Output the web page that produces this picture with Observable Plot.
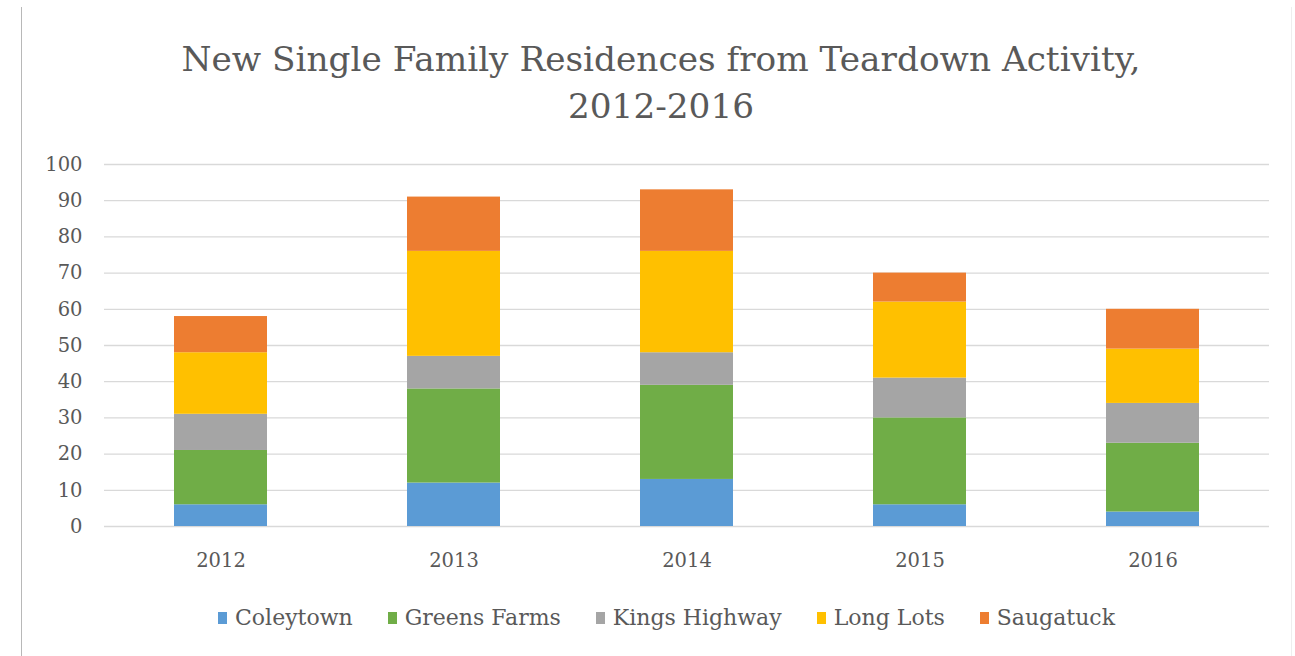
<!DOCTYPE html>
<html>
<head>
<meta charset="utf-8">
<script src="https://cdn.jsdelivr.net/npm/d3@7"></script>
<script src="https://cdn.jsdelivr.net/npm/@observablehq/plot@0.6"></script>
<style>
  html, body { margin: 0; padding: 0; background: #fff; }
  #wrap { position: relative; width: 1295px; height: 656px; overflow: hidden; background: #fff; }
  #frame { position: absolute; left: 21px; top: 7px; width: 1269px; height: 660px;
           border-left: 1px solid #b8b8b8; border-right: 1px solid #eeeeee; }
  #title { position: absolute; left: 21px; width: 1280px; top: 36px; text-align: center;
           font-family: "DejaVu Serif", serif; font-size: 34.3px; line-height: 47px; color: #595959; }
  #chart { position: absolute; left: 0; top: 140px; }
  #legend { position: absolute; left: 0; width: 1295px; top: 601px; display: flex; justify-content: center; padding-left: 73px; box-sizing: border-box; }
  .lg-swatch { margin-right: 35px !important; }
  .lg-swatch svg { margin-right: 8px !important; }
</style>
</head>
<body>
<div id="wrap">
  <div id="frame"></div>
  <div id="title">New Single Family Residences from Teardown Activity,<br>2012-2016</div>
  <div id="chart"></div>
  <div id="legend"></div>
</div>
<script>
const years = ["2012", "2013", "2014", "2015", "2016"];
const series = ["Coleytown", "Greens Farms", "Kings Highway", "Long Lots", "Saugatuck"];
const colors = ["#5B9BD5", "#70AD47", "#A5A5A5", "#FFC000", "#ED7D31"];
const coleytown    = [6, 12, 13, 6, 4];
const greensFarms  = [15, 26, 26, 24, 19];
const kingsHighway = [10, 9, 9, 11, 11];
const longLots     = [17, 29, 28, 21, 15];
const saugatuck    = [10, 15, 17, 8, 11];
const yTicks = [0, 10, 20, 30, 40, 50, 60, 70, 80, 90, 100];

const valuesBySeries = [coleytown, greensFarms, kingsHighway, longLots, saugatuck];
const data = [];
series.forEach((s, i) => years.forEach((y, j) => data.push({year: y, series: s, value: valuesBySeries[i][j]})));

const chart = Plot.plot({
  width: 1290,
  height: 436,
  marginLeft: 104,
  marginRight: 21,
  marginTop: 24,
  marginBottom: 50,
  style: {fontFamily: "DejaVu Serif, serif", fontSize: "19.5px", color: "#595959", background: "transparent"},
  x: {domain: years, paddingInner: 0.6, paddingOuter: 0.3, label: null},
  y: {domain: [0, 100], label: null},
  color: {domain: series, range: colors},
  marks: [
    Plot.gridY(yTicks, {stroke: "#d9d9d9", strokeOpacity: 1, strokeWidth: 1.3}),
    Plot.barY(data, Plot.stackY({order: series}, {x: "year", y: "value", fill: "series"})),
    Plot.axisY(yTicks, {tickSize: 0, tickPadding: 22, label: null, fill: "#595959"}),
    Plot.axisX({tickSize: 0, tickPadding: 27, label: null, fill: "#595959"})
  ]
});
document.getElementById("chart").appendChild(chart);

const legend = Plot.legend({
  color: {domain: series, range: colors},
  swatchWidth: 9,
  swatchHeight: 12,
  className: "lg",
  style: {fontFamily: "DejaVu Serif, serif", fontSize: "22px", color: "#595959"}
});
document.getElementById("legend").appendChild(legend);
</script>
</body>
</html>
